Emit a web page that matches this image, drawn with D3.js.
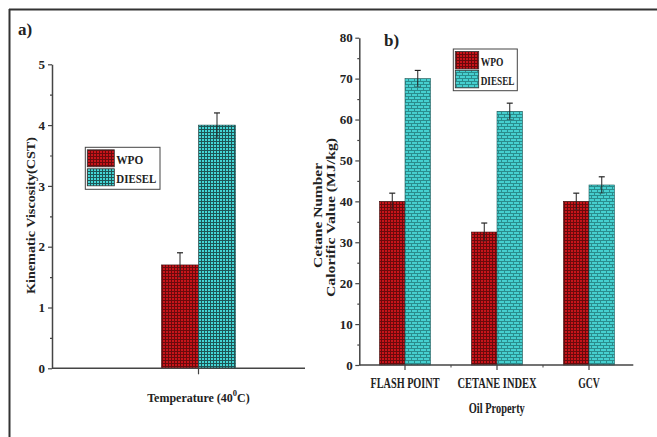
<!DOCTYPE html>
<html>
<head>
<meta charset="utf-8">
<script src="https://cdn.jsdelivr.net/npm/d3@7"></script>
<style>
  html, body { margin: 0; padding: 0; background: #fff; }
  svg { display: block; }
  text { font-family: "Liberation Serif", "DejaVu Serif", serif; font-weight: bold; fill: #222; }
</style>
</head>
<body>
<svg id="chart" width="657" height="437"></svg>
<script>
// ---------------- data ----------------
const seriesNames = ["WPO", "DIESEL"];

// panel a
const viscCategories = ["Temperature"];
const viscWPO = [1.7];
const viscDiesel = [4.0];
const viscErrWPO = [0.2];
const viscErrDiesel = [0.2];
const viscTicks = [0, 1, 2, 3, 4, 5];
const viscMinorTicks = [0.5, 1.5, 2.5, 3.5, 4.5];

// panel b
const propCategories = ["FLASH POINT", "CETANE INDEX", "GCV"];
const propWPO = [40, 32.5, 40];
const propDiesel = [70, 62, 44];
const propErrWPO = [2, 2.2, 2];
const propErrDiesel = [2, 2, 2];
const propTicks = [0, 10, 20, 30, 40, 50, 60, 70, 80];
const propMinorTicks = [5, 15, 25, 35, 45, 55, 65, 75];

// ---------------- drawing ----------------
const svg = d3.select("#chart");
const defs = svg.append("defs");

function gridPattern(id, base, line, size) {
  const p = defs.append("pattern").attr("id", id).attr("patternUnits", "userSpaceOnUse")
    .attr("width", size).attr("height", size);
  p.append("rect").attr("width", size).attr("height", size).attr("fill", base);
  p.append("rect").attr("x", 0).attr("y", 0).attr("width", size).attr("height", 1).attr("fill", line);
  p.append("rect").attr("x", 0).attr("y", 0).attr("width", 1).attr("height", size).attr("fill", line);
}
gridPattern("redGrid", "#c8141a", "#6a0a0c", 3);
gridPattern("cyanGrid", "#44d6d6", "#1e5656", 3);
(function brick() {
  const w = 6, h = 6, c = "#2a8c8c";
  const p = defs.append("pattern").attr("id", "cyanBrick").attr("patternUnits", "userSpaceOnUse")
    .attr("width", w).attr("height", h);
  p.append("rect").attr("width", w).attr("height", h).attr("fill", "#46cfcf");
  p.append("rect").attr("x", 0).attr("y", 0).attr("width", w).attr("height", 1).attr("fill", c);
  p.append("rect").attr("x", 0).attr("y", 3).attr("width", w).attr("height", 1).attr("fill", c);
  p.append("rect").attr("x", 0).attr("y", 0).attr("width", 1).attr("height", 3).attr("fill", c);
  p.append("rect").attr("x", 3).attr("y", 3).attr("width", 1).attr("height", 3).attr("fill", c);
})();

// frame
svg.append("line").attr("x1", 9).attr("x2", 657).attr("y1", 9.5).attr("y2", 9.5)
  .attr("stroke", "#333").attr("stroke-width", 2);
svg.append("line").attr("x1", 9.5).attr("x2", 9.5).attr("y1", 9).attr("y2", 437)
  .attr("stroke", "#333").attr("stroke-width", 2);

const axisColor = "#444";

function styleAxis(g) {
  g.selectAll("path.domain").attr("stroke", axisColor).attr("stroke-width", 1.5);
  g.selectAll(".tick line").attr("stroke", axisColor).attr("stroke-width", 1.2);
  g.selectAll("text").attr("font-family", '"Liberation Serif", serif').attr("font-weight", "bold")
    .attr("font-size", 13).attr("fill", "#222");
}

function errorBar(g, x, yTop, yBot, cap) {
  g.append("line").attr("x1", x).attr("x2", x).attr("y1", yTop).attr("y2", yBot)
    .attr("stroke", "#222").attr("stroke-width", 1);
  g.append("line").attr("x1", x - cap / 2).attr("x2", x + cap / 2).attr("y1", yTop).attr("y2", yTop)
    .attr("stroke", "#222").attr("stroke-width", 1.2);
  g.append("line").attr("x1", x - cap / 2).attr("x2", x + cap / 2).attr("y1", yBot).attr("y2", yBot)
    .attr("stroke", "#333").attr("stroke-width", 0.8).attr("opacity", 0.6);
}

function legend(x, y, w, h, sw, sh, textSize, len1, len2, pat2) {
  const g = svg.append("g");
  g.append("rect").attr("x", x).attr("y", y).attr("width", w).attr("height", h)
    .attr("fill", "#fff").attr("stroke", "#444").attr("stroke-width", 1);
  const pats = ["url(#redGrid)", pat2];
  const lens = [len1, len2];
  seriesNames.forEach((n, i) => {
    const yy = y + 2.5 + i * (h - 4) / 2;
    g.append("rect").attr("x", x + 2).attr("y", yy).attr("width", sw).attr("height", sh)
      .attr("fill", pats[i]).attr("stroke", "#333").attr("stroke-width", 0.8);
    g.append("text").attr("x", x + sw + 4).attr("y", yy + sh - 3)
      .attr("font-size", textSize).attr("textLength", lens[i]).attr("lengthAdjust", "spacingAndGlyphs")
      .text(n);
  });
}

// ---------- panel a ----------
(function panelA() {
  const x0 = 52, x1 = 305;
  const y = d3.scaleLinear().domain([0, 5]).range([368.3, 64.3]);
  const x = d3.scaleBand().domain(viscCategories).range([92, 305]);
  const bw = 37;
  const g = svg.append("g");

  const cx = x(viscCategories[0]) + x.bandwidth() / 2;
  viscCategories.forEach((c, i) => {
    const cc = x(c) + x.bandwidth() / 2;
    g.append("rect").attr("x", cc - bw).attr("y", y(viscWPO[i])).attr("width", bw)
      .attr("height", y(0) - y(viscWPO[i])).attr("fill", "url(#redGrid)")
      .attr("stroke", "#3a0a0a").attr("stroke-width", 0.6);
    g.append("rect").attr("x", cc).attr("y", y(viscDiesel[i])).attr("width", bw)
      .attr("height", y(0) - y(viscDiesel[i])).attr("fill", "url(#cyanGrid)")
      .attr("stroke", "#1e4a4a").attr("stroke-width", 0.6);
    errorBar(g, cc - bw / 2, y(viscWPO[i] + viscErrWPO[i]), y(viscWPO[i] - viscErrWPO[i]), 6);
    errorBar(g, cc + bw / 2, y(viscDiesel[i] + viscErrDiesel[i]), y(viscDiesel[i] - viscErrDiesel[i]), 6);
  });

  const ya = g.append("g").attr("transform", `translate(${x0},0)`)
    .call(d3.axisLeft(y).tickValues(viscTicks).tickFormat(d3.format("d")).tickSize(4).tickPadding(3).tickSizeOuter(0));
  styleAxis(ya);
  const ym = g.append("g").attr("transform", `translate(${x0},0)`)
    .call(d3.axisLeft(y).tickValues(viscMinorTicks).tickFormat("").tickSize(2).tickSizeOuter(0));
  styleAxis(ym);
  ym.select("path.domain").remove();

  g.append("line").attr("x1", x0).attr("x2", x1).attr("y1", y(0)).attr("y2", y(0))
    .attr("stroke", axisColor).attr("stroke-width", 1.5);
  const xa = g.append("g").attr("transform", `translate(0,${y(0)})`)
    .call(d3.axisBottom(x).tickFormat("").tickSize(6).tickSizeOuter(0));
  styleAxis(xa);
  xa.select("path.domain").remove();

  const t = g.append("text").attr("x", cx).attr("y", 402).attr("text-anchor", "middle")
    .attr("font-size", 12);
  t.append("tspan").text("Temperature (40");
  t.append("tspan").attr("font-size", 8.5).attr("dy", -6).text("0");
  t.append("tspan").attr("dy", 6).text("C)");

  g.append("text").attr("transform", `translate(35,215.5) rotate(-90)`).attr("text-anchor", "middle")
    .attr("font-size", 12.5).attr("textLength", 157).attr("lengthAdjust", "spacingAndGlyphs")
    .text("Kinematic Viscosity(CST)");

  g.append("text").attr("x", 18).attr("y", 35).attr("font-size", 17).text("a)");

  legend(85.3, 147.3, 74.7, 42, 27, 17, 13.5, 27, 40, "url(#cyanGrid)");
})();

// ---------- panel b ----------
(function panelB() {
  const x0 = 359.3, x1 = 633.3;
  const y = d3.scaleLinear().domain([0, 80]).range([365, 37.7]);
  const x = d3.scaleBand().domain(propCategories).range([359, 635]);
  const bw = 25.5;
  const g = svg.append("g");

  propCategories.forEach((c, i) => {
    const cc = x(c) + x.bandwidth() / 2;
    g.append("rect").attr("x", cc - bw).attr("y", y(propWPO[i])).attr("width", bw)
      .attr("height", y(0) - y(propWPO[i])).attr("fill", "url(#redGrid)")
      .attr("stroke", "#3a0a0a").attr("stroke-width", 0.6);
    g.append("rect").attr("x", cc).attr("y", y(propDiesel[i])).attr("width", bw)
      .attr("height", y(0) - y(propDiesel[i])).attr("fill", "url(#cyanBrick)")
      .attr("stroke", "#1e5a5a").attr("stroke-width", 0.6);
    errorBar(g, cc - bw / 2, y(propWPO[i] + propErrWPO[i]), y(propWPO[i] - propErrWPO[i]), 6);
    errorBar(g, cc + bw / 2, y(propDiesel[i] + propErrDiesel[i]), y(propDiesel[i] - propErrDiesel[i]), 6);
  });

  const ya = g.append("g").attr("transform", `translate(${x0},0)`)
    .call(d3.axisLeft(y).tickValues(propTicks).tickFormat(d3.format("d")).tickSize(4).tickPadding(2.5).tickSizeOuter(0));
  styleAxis(ya);
  const ym = g.append("g").attr("transform", `translate(${x0},0)`)
    .call(d3.axisLeft(y).tickValues(propMinorTicks).tickFormat("").tickSize(2).tickSizeOuter(0));
  styleAxis(ym);
  ym.select("path.domain").remove();

  g.append("line").attr("x1", x0).attr("x2", x1).attr("y1", y(0)).attr("y2", y(0))
    .attr("stroke", axisColor).attr("stroke-width", 1.5);
  const xa = g.append("g").attr("transform", `translate(0,${y(0)})`)
    .call(d3.axisBottom(x).tickSize(5).tickPadding(9).tickSizeOuter(0));
  styleAxis(xa);
  xa.select("path.domain").remove();
  const catLens = { "FLASH POINT": 69, "CETANE INDEX": 79, "GCV": 21.7 };
  xa.selectAll(".tick text").attr("font-size", 14).attr("dy", null).attr("y", 22.7)
    .attr("textLength", d => catLens[d]).attr("lengthAdjust", "spacingAndGlyphs");
  const bounds = propCategories.slice(1).map(c => x(c));
  g.selectAll(".minx").data(bounds).enter().append("line")
    .attr("x1", d => d).attr("x2", d => d).attr("y1", y(0)).attr("y2", y(0) + 2.5)
    .attr("stroke", axisColor).attr("stroke-width", 1);

  g.append("text").attr("x", (x0 + x1) / 2 + 0.5).attr("y", 413).attr("text-anchor", "middle")
    .attr("font-size", 14).attr("textLength", 56).attr("lengthAdjust", "spacingAndGlyphs")
    .text("Oil Property");

  g.append("text").attr("transform", `translate(322,215.5) rotate(-90)`).attr("text-anchor", "middle")
    .attr("font-size", 12.5).attr("textLength", 105).attr("lengthAdjust", "spacingAndGlyphs")
    .text("Cetane Number");
  g.append("text").attr("transform", `translate(335,217.5) rotate(-90)`).attr("text-anchor", "middle")
    .attr("font-size", 12.5).attr("textLength", 159).attr("lengthAdjust", "spacingAndGlyphs")
    .text("Calorific Value (MJ/kg)");

  g.append("text").attr("x", 384).attr("y", 45.5).attr("font-size", 17).text("b)");

  legend(453.3, 49, 64, 41.7, 23.4, 17.5, 12.5, 22.7, 33.7, "url(#cyanBrick)");
})();
</script>
</body>
</html>
